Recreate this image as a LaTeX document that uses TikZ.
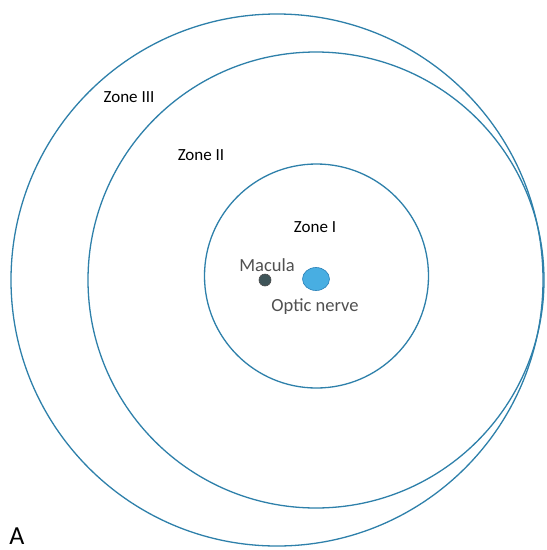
\documentclass[tikz,border=0pt]{standalone}
\usepackage{fontspec}
\setmainfont{Carlito}
\usetikzlibrary{shapes.geometric}
\definecolor{ring}{RGB}{46,128,170}
\definecolor{macfill}{RGB}{62,84,88}
\definecolor{nervefill}{RGB}{72,174,226}
\definecolor{nerveline}{RGB}{40,128,184}
\definecolor{labgrey}{RGB}{80,80,80}
\begin{document}
\begin{tikzpicture}[x=1pt,y=-1pt,
  zonering/.style={circle,draw=ring,line width=1.3pt,inner sep=0pt},
  zonelabel/.style={inner sep=0pt,font=\fontsize{17}{17}\selectfont,text=black},
  partlabel/.style={inner sep=0pt,font=\fontsize{18.5}{18.5}\selectfont,text=labgrey}]
\useasboundingbox[fill=white] (0,0) rectangle (547,550);
\node[zonering,minimum size=532pt] (outer) at (277,280) {};
\node[zonering,minimum size=456pt] (middle) at (316,280) {};
\node[zonering,minimum size=224pt] (inner) at (316.5,276) {};
\node[circle,fill=macfill,draw=black!70,line width=0.6pt,minimum size=12pt,inner sep=0pt] (macula) at (265,280) {};
\node[ellipse,fill=nervefill,draw=nerveline,line width=0.6pt,minimum width=27pt,minimum height=23pt,inner sep=0pt] (nerve) at (316,279) {};
\node[partlabel] (maclab) at (267,265) {Macula};
\node[partlabel] (nervelab) at (315,307) {Optic nerve};
\node[zonelabel] (z1) at (315,227) {Zone I};
\node[zonelabel] (z2) at (201,155) {Zone II};
\node[zonelabel] (z3) at (129,97) {Zone III};
\node[inner sep=0pt,font=\fontsize{26}{26}\selectfont] (lab) at (17,536) {A};
\end{tikzpicture}
\end{document}
